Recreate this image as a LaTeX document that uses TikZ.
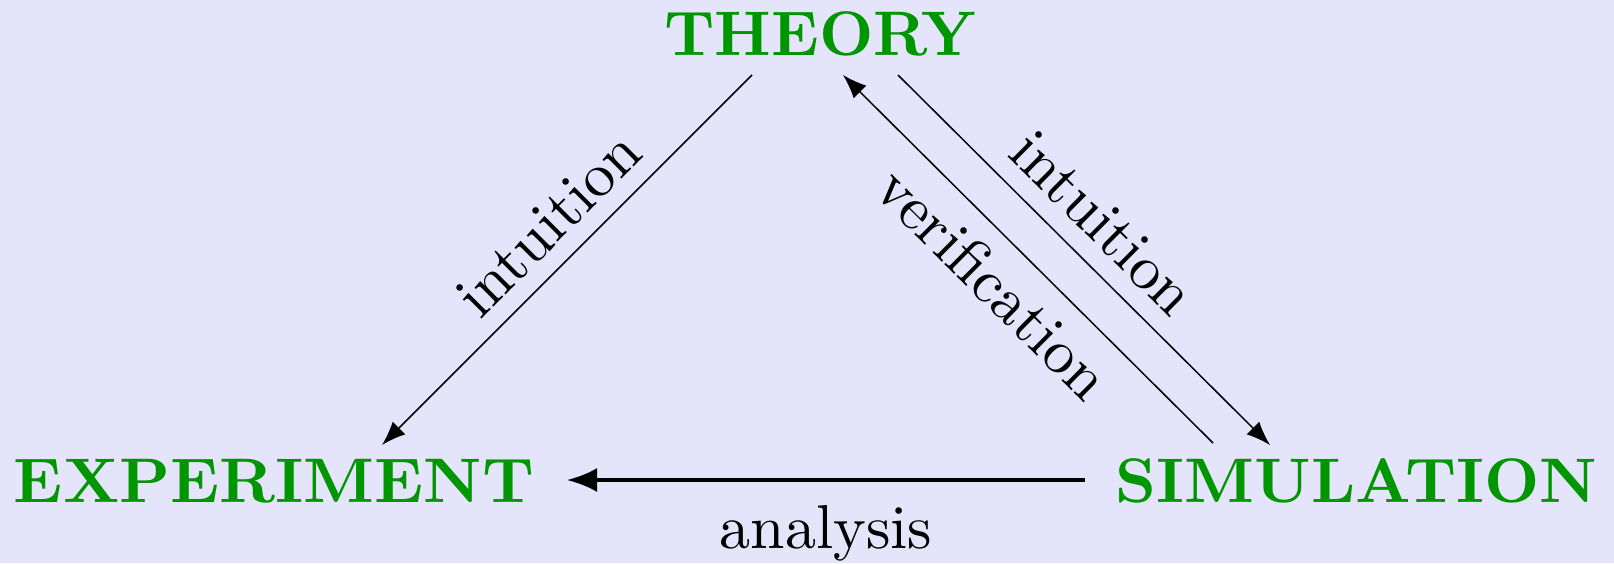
\documentclass[tikz,border=0pt]{standalone}
\usetikzlibrary{arrows.meta}
\definecolor{bgcol}{RGB}{228,228,250}
\definecolor{titlegreen}{RGB}{0,150,0}
\begin{document}
\begin{tikzpicture}[x=1pt,y=-1pt,
  title/.style={text=titlegreen, font=\fontsize{10}{12}\selectfont\bfseries, scale=6.3, inner sep=0pt, outer sep=0pt, anchor=base},
  lbl/.style={font=\fontsize{10}{12}\selectfont, scale=6.2, outer sep=0pt},
  thinarrow/.style={line width=1.5pt, -{Latex[length=24pt,width=18pt]}},
  thickarrow/.style={line width=3.5pt, -{Latex[length=30pt,width=24pt]}}]
\fill[bgcol] (0,0) rectangle (1614,563);
\useasboundingbox (0,0) rectangle (1614,563);
\node[title] (T) at (820.5,55) {THEORY};
\node[title, xscale=1.03] (E) at (274,502) {EXPERIMENT};
\node[title, xscale=1.017] (S) at (1356.5,502) {SIMULATION};
\draw[thinarrow] ([shift={(-68.5,20)}]T.base) -- node[lbl, pos=0.477, sloped, above, inner sep=2.9pt] {intuition} ([shift={(108,-57)}]E.base);
\draw[thinarrow] ([shift={(77.5,20)}]T.base) -- node[lbl, pos=0.476, sloped, above, inner sep=3.06pt] {intuition} ([shift={(-86.5,-57)}]S.base);
\draw[thinarrow] ([shift={(-143.5,-59)}]S.base) -- node[lbl, pos=0.514, sloped, below, inner sep=3.06pt] {verification} ([shift={(22.5,20)}]T.base);
\draw[thickarrow] ([shift={(-271.5,-22)}]S.base) -- node[lbl, midway, below, inner sep=4.03pt] {analysis} ([shift={(293,-22)}]E.base);
\end{tikzpicture}
\end{document}
